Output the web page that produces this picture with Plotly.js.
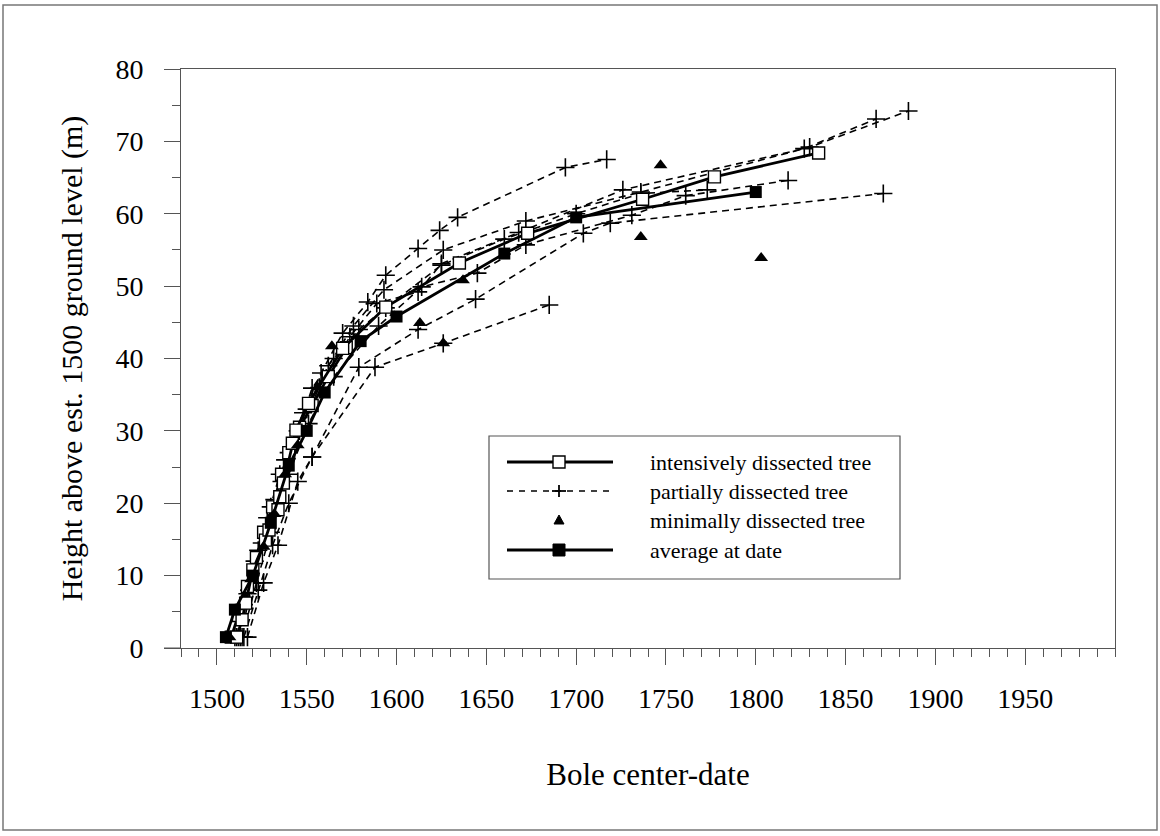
<!DOCTYPE html>
<html>
<head>
<meta charset="utf-8">
<script src="https://cdn.plot.ly/plotly-3.0.1.min.js"></script>
<style>
  html, body { margin: 0; padding: 0; background: #fff; }
  #chart { width: 1160px; height: 836px; }
  #chart text { font-family: 'Liberation Serif', 'Times New Roman', serif !important; }
</style>
</head>
<body>
<div id="chart"></div>
<script>
// ---------- data ----------
// intensively dissected trees (solid line, open squares)
const intensive1Years   = [1511, 1514, 1516, 1520, 1527, 1529, 1534, 1535, 1537, 1542, 1544, 1551, 1570, 1594, 1635, 1673, 1737, 1777, 1835];
const intensive1Heights = [1.5, 3.9, 6.2, 10.8, 14.9, 16.3, 19.1, 20.9, 22.8, 28.3, 30.1, 33.8, 41.4, 47.1, 53.2, 57.3, 62.0, 65.1, 68.4];
const intensive2Years   = [1508, 1512, 1517, 1522, 1526, 1531, 1536, 1540, 1546, 1553, 1562, 1572];
const intensive2Heights = [1.5, 4.5, 8.5, 12.5, 16.0, 19.5, 24.0, 27.0, 30.5, 33.5, 37.5, 41.5];

// partially dissected trees (dashed line, plus markers)
const partial1Years   = [1511, 1517, 1523, 1530, 1538, 1548, 1558, 1570, 1584, 1594, 1612, 1624, 1634, 1694, 1717];
const partial1Heights = [1.5, 7.5, 13.5, 19.5, 26.0, 32.5, 38.0, 43.5, 47.8, 51.5, 55.2, 57.7, 59.5, 66.4, 67.5];
const partial2Years   = [1512, 1518, 1525, 1532, 1540, 1550, 1562, 1576, 1593, 1626, 1672, 1736, 1830, 1885];
const partial2Heights = [1.5, 8.0, 14.5, 20.5, 27.0, 33.0, 39.0, 44.5, 49.5, 55.0, 59.0, 63.0, 69.2, 74.2];
const partial3Years   = [1513, 1520, 1528, 1536, 1546, 1557, 1574, 1589, 1612, 1625, 1668, 1726, 1827, 1867];
const partial3Heights = [1.5, 9.0, 16.5, 23.0, 30.0, 36.0, 43.0, 47.6, 49.2, 53.1, 57.4, 63.3, 69.0, 73.1];
const partial4Years   = [1514, 1522, 1530, 1540, 1551, 1565, 1590, 1614, 1645, 1672, 1731, 1761, 1818];
const partial4Heights = [1.5, 9.0, 16.0, 24.0, 31.0, 37.5, 44.5, 49.9, 51.8, 55.7, 59.8, 62.5, 64.6];
const partial5Years   = [1510, 1515, 1521, 1528, 1535, 1545, 1553, 1565, 1579, 1594, 1625, 1660, 1700, 1736, 1773];
const partial5Heights = [1.5, 6.0, 12.0, 18.0, 24.0, 30.0, 35.9, 40.0, 44.0, 47.0, 52.9, 56.5, 60.0, 62.8, 63.3];
const partial6Years   = [1517, 1526, 1534, 1545, 1553, 1579, 1612, 1644, 1704, 1719, 1871];
const partial6Heights = [1.5, 9.0, 14.2, 23.0, 26.4, 38.8, 44.0, 48.2, 57.3, 58.7, 62.8];
const partial7Years   = [1515, 1523, 1531, 1540, 1553, 1588, 1626, 1685];
const partial7Heights = [1.5, 8.0, 14.2, 20.0, 26.4, 38.8, 42.1, 47.4];

// minimally dissected trees (triangles only)
const minimalYears   = [1507, 1519, 1526, 1532, 1538, 1545, 1556, 1564, 1613, 1626, 1637, 1736, 1747, 1803];
const minimalHeights = [1.5, 9.5, 14.0, 18.5, 24.0, 28.0, 36.0, 41.7, 44.9, 42.1, 50.8, 56.8, 66.7, 53.9];

// average at date (solid line, filled squares)
const averageYears   = [1505, 1510, 1520, 1530, 1540, 1550, 1560, 1580, 1600, 1660, 1700, 1800];
const averageHeights = [1.5, 5.3, 10.0, 17.3, 25.2, 30.0, 35.3, 42.4, 45.8, 54.5, 59.5, 63.0];

const xTickValues = [1500, 1550, 1600, 1650, 1700, 1750, 1800, 1850, 1900, 1950];
const yTickValues = [0, 10, 20, 30, 40, 50, 60, 70, 80];

const legendLabels = ['intensively dissected tree', 'partially dissected tree', 'minimally dissected tree', 'average at date'];

// ---------- traces ----------
const FONT = 'Liberation Serif';
const partialSets = [
  [partial1Years, partial1Heights], [partial2Years, partial2Heights], [partial3Years, partial3Heights],
  [partial4Years, partial4Heights], [partial5Years, partial5Heights], [partial6Years, partial6Heights],
  [partial7Years, partial7Heights]
];
const traces = [];
partialSets.forEach(function (p) {
  traces.push({
    x: p[0], y: p[1], type: 'scatter', mode: 'lines+markers', showlegend: false, hoverinfo: 'skip',
    line: { color: '#000', width: 1.6, dash: '7px,5px' },
    marker: { symbol: 'cross-thin', size: 13, line: { color: '#000', width: 1.6 } }
  });
});
[[intensive2Years, intensive2Heights], [intensive1Years, intensive1Heights]].forEach(function (p) {
  traces.push({
    x: p[0], y: p[1], type: 'scatter', mode: 'lines+markers', showlegend: false, hoverinfo: 'skip',
    line: { color: '#000', width: 2.8 },
    marker: { symbol: 'square', size: 12, color: '#fff', line: { color: '#000', width: 1.4 } }
  });
});
traces.push({
  x: averageYears, y: averageHeights, type: 'scatter', mode: 'lines+markers', showlegend: false, hoverinfo: 'skip',
  line: { color: '#000', width: 2.8 },
  marker: { symbol: 'square', size: 12, color: '#000' }
});
traces.push({
  x: minimalYears, y: minimalHeights, type: 'scatter', mode: 'markers', showlegend: false, hoverinfo: 'skip',
  marker: { symbol: 'triangle-up', size: 12, color: '#000' }
});

// ---------- layout ----------
const plotW = 934, plotH = 579;
function px(v) { return (v - 181) / plotW; }
function py(v) { return (648 - v) / plotH; }

const shapes = [
  // outer frame around figure
  { type: 'rect', xref: 'paper', yref: 'paper', x0: px(3), x1: px(1157), y0: py(830), y1: py(5),
    line: { color: '#777', width: 1.5 } },
  // x-axis line extension to the left
  { type: 'line', xref: 'paper', yref: 'paper', x0: px(164), x1: 0, y0: 0, y1: 0,
    line: { color: '#555', width: 1 } },
  // legend box
  { type: 'rect', xref: 'paper', yref: 'paper', x0: px(489), x1: px(900), y0: py(579), y1: py(436),
    fillcolor: '#fff', line: { color: '#555', width: 1.2 }, layer: 'above' }
];
const annotations = [];
const rowY = [462, 491, 520, 550];
const lx0 = px(507), lx1 = px(613), mx = px(559);
// legend row 1
shapes.push({ type: 'line', xref: 'paper', yref: 'paper', x0: lx0, x1: lx1, y0: py(rowY[0]), y1: py(rowY[0]), line: { color: '#000', width: 2.8 }, layer: 'above' });
shapes.push({ type: 'rect', xref: 'paper', yref: 'paper', xsizemode: 'pixel', ysizemode: 'pixel', xanchor: mx, yanchor: py(rowY[0]),
  x0: -6, x1: 6, y0: -6, y1: 6, fillcolor: '#fff', line: { color: '#000', width: 1.4 }, layer: 'above' });
// legend row 2
shapes.push({ type: 'line', xref: 'paper', yref: 'paper', x0: lx0, x1: lx1, y0: py(rowY[1]), y1: py(rowY[1]), line: { color: '#000', width: 1.6, dash: '6px,6px' }, layer: 'above' });
shapes.push({ type: 'line', xref: 'paper', yref: 'paper', xsizemode: 'pixel', ysizemode: 'pixel', xanchor: mx, yanchor: py(rowY[1]),
  x0: 0, x1: 0, y0: -6, y1: 6, line: { color: '#000', width: 1.8 }, layer: 'above' });
shapes.push({ type: 'line', xref: 'paper', yref: 'paper', xsizemode: 'pixel', ysizemode: 'pixel', xanchor: mx, yanchor: py(rowY[1]),
  x0: -7, x1: 7, y0: 0, y1: 0, line: { color: '#000', width: 1.8 }, layer: 'above' });
// legend row 3 (triangle)
shapes.push({ type: 'path', xref: 'paper', yref: 'paper', xsizemode: 'pixel', ysizemode: 'pixel', xanchor: mx, yanchor: py(rowY[2]),
  path: 'M-5,-4 L5,-4 L0,5 Z', fillcolor: '#000', line: { color: '#000', width: 1 }, layer: 'above' });
// legend row 4
shapes.push({ type: 'line', xref: 'paper', yref: 'paper', x0: lx0, x1: lx1, y0: py(rowY[3]), y1: py(rowY[3]), line: { color: '#000', width: 2.8 }, layer: 'above' });
shapes.push({ type: 'rect', xref: 'paper', yref: 'paper', xsizemode: 'pixel', ysizemode: 'pixel', xanchor: mx, yanchor: py(rowY[3]),
  x0: -6, x1: 6, y0: -6, y1: 6, fillcolor: '#000', line: { color: '#000', width: 1 }, layer: 'above' });

legendLabels.forEach(function (t, i) {
  annotations.push({ xref: 'paper', yref: 'paper', x: px(648), y: py(rowY[i]), xanchor: 'left', yanchor: 'middle',
    text: t, showarrow: false, font: { family: FONT, size: 22, color: '#000' } });
});

const layout = {
  width: 1160, height: 836,
  margin: { l: 181, r: 45, t: 69, b: 188, autoexpand: false },
  paper_bgcolor: '#fff', plot_bgcolor: '#fff',
  showlegend: false,
  font: { family: FONT, color: '#000' },
  xaxis: {
    range: [1480, 2000], tickvals: xTickValues, ticks: 'outside', ticklen: 16, tickwidth: 1, tickcolor: '#555',
    minor: { dtick: 10, tick0: 1500, ticks: 'outside', ticklen: 8, tickwidth: 1, tickcolor: '#555' },
    showline: true, linecolor: '#555', linewidth: 1, mirror: true, showgrid: false, zeroline: false,
    tickfont: { family: FONT, size: 28, color: '#000' }, ticklabelstandoff: 9,
    title: { text: 'Bole center-date', font: { family: FONT, size: 31, color: '#000' }, standoff: 50 },
    automargin: false, fixedrange: true
  },
  yaxis: {
    range: [0, 80], tickvals: yTickValues, ticks: 'outside', ticklen: 16, tickwidth: 1, tickcolor: '#555',
    minor: { dtick: 5, tick0: 0, ticks: 'outside', ticklen: 8, tickwidth: 1, tickcolor: '#555' },
    showline: true, linecolor: '#555', linewidth: 1, mirror: true, showgrid: false, zeroline: false,
    tickfont: { family: FONT, size: 28, color: '#000' }, ticklabelstandoff: 15,
    title: { text: 'Height above est. 1500 ground level (m)', font: { family: FONT, size: 30, color: '#000' }, standoff: 23 },
    automargin: false, fixedrange: true
  },
  shapes: shapes,
  annotations: annotations
};

Plotly.newPlot('chart', traces, layout, { displayModeBar: false });
</script>
</body>
</html>
